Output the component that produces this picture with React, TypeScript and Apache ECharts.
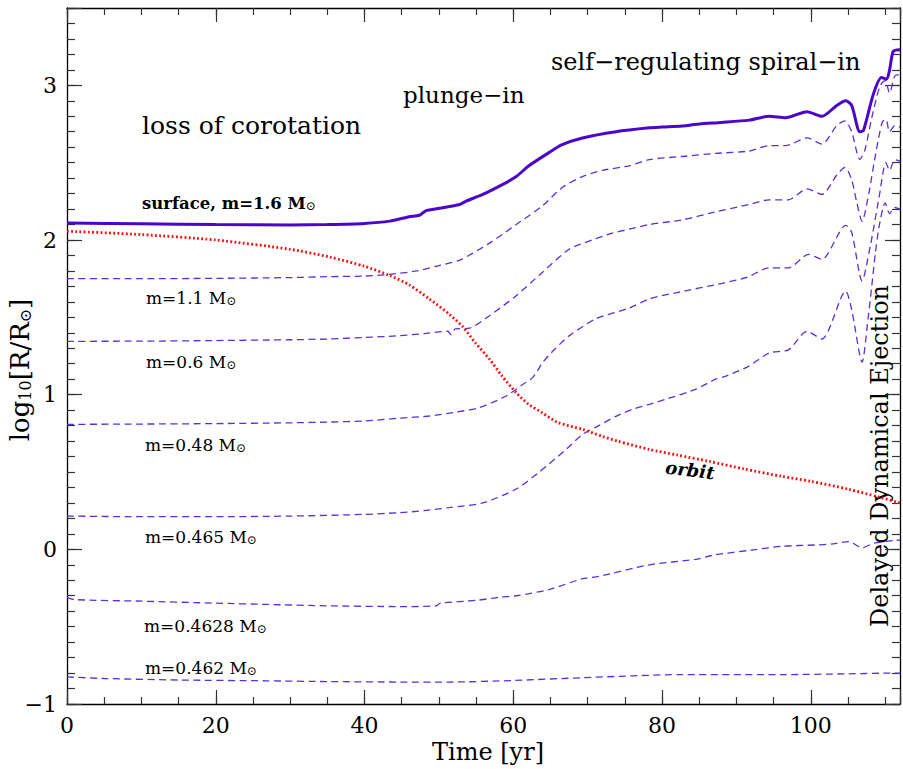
import React, { useEffect, useRef } from 'react';
import * as echarts from 'echarts';

const FONT = '"DejaVu Serif", "Liberation Serif", serif';

// Time [yr], log10(R/Rsun)
const surface = [
  [0, 2.11], [10, 2.105], [20, 2.1], [30, 2.097], [35, 2.1], [40, 2.107], [43.4, 2.122], [46, 2.15],
  [47.4, 2.16], [48.3, 2.19], [50.1, 2.205], [52.8, 2.23], [53.6, 2.25], [55.9, 2.295], [58.6, 2.36],
  [60.4, 2.41], [62.1, 2.48], [64.8, 2.565], [66.5, 2.615], [69.3, 2.66], [73.8, 2.7], [78.3, 2.725],
  [80, 2.73], [82.7, 2.737], [85, 2.75], [88, 2.76], [91.7, 2.775], [94.4, 2.8], [96.6, 2.79],
  [99.5, 2.83], [101.5, 2.8], [103.5, 2.87], [104.7, 2.9], [105.5, 2.87], [106.6, 2.7], [107.1, 2.71],
  [108.4, 2.94], [109.5, 3.05], [110.2, 3.04], [110.6, 3.1], [111.1, 3.22], [112, 3.23],
];

const m1p1 = [
  [0, 1.75], [10, 1.75], [20, 1.752], [30, 1.757], [35.3, 1.763], [40, 1.767], [43.4, 1.778], [47, 1.8],
  [49.6, 1.83], [52.8, 1.87], [56.8, 1.98], [60.4, 2.1], [63.9, 2.22], [66.6, 2.34], [69.3, 2.41],
  [72, 2.45], [75.6, 2.48], [78.3, 2.52], [82.7, 2.54], [87.2, 2.56], [91.7, 2.575], [94.4, 2.61],
  [96.6, 2.61], [99.5, 2.66], [101.5, 2.62], [103.5, 2.74], [104.6, 2.77], [105.5, 2.7], [106.6, 2.52],
  [107.3, 2.585], [108.2, 2.79], [109.3, 2.995], [110, 3.03], [110.6, 2.95], [111.3, 3.06], [112, 3.07],
];

const m0p6 = [
  [0, 1.345], [10, 1.346], [20, 1.35], [30, 1.355], [35.3, 1.36], [40, 1.37], [44.3, 1.38], [48, 1.395],
  [51.2, 1.41], [51.6, 1.388], [52.2, 1.425], [54.1, 1.43], [56.8, 1.51], [60.4, 1.64], [63.9, 1.79],
  [67.5, 1.94], [70.6, 2.0], [73, 2.04], [75.6, 2.07], [78.3, 2.1], [82.7, 2.13], [87, 2.18],
  [91.7, 2.23], [94.4, 2.26], [97, 2.26], [99.5, 2.33], [101.5, 2.295], [103.5, 2.42], [104.6, 2.47],
  [105.5, 2.39], [106.2, 2.24], [106.9, 2.12], [107.8, 2.3], [108.7, 2.55], [109.6, 2.76], [110.1, 2.78],
  [110.6, 2.7], [111.3, 2.74], [112, 2.73],
];

const m0p48 = [
  [0, 0.808], [10, 0.81], [20, 0.813], [30, 0.818], [35.3, 0.823], [40, 0.83], [44.7, 0.848], [48.7, 0.862],
  [52, 0.885], [55.4, 0.916], [59, 0.99], [61.3, 1.067], [62.6, 1.11], [64, 1.21], [65.5, 1.29],
  [67.5, 1.38], [71.1, 1.49], [75.6, 1.56], [78.3, 1.62], [82, 1.66], [88.1, 1.72], [91.5, 1.76],
  [94.4, 1.82], [97, 1.82], [99.7, 1.907], [101.5, 1.875], [104.7, 2.095], [105.5, 2.05], [106.9, 1.735],
  [108, 1.96], [109.2, 2.28], [110.1, 2.5], [110.6, 2.45], [111.3, 2.52], [112, 2.51],
];

const m0p465 = [
  [0, 0.215], [10, 0.211], [20, 0.211], [30, 0.215], [40, 0.226], [44.7, 0.237], [48, 0.25], [51.4, 0.27],
  [55.9, 0.3], [60.4, 0.39], [63.5, 0.5], [67.1, 0.646], [69.3, 0.743], [71.5, 0.8], [73.8, 0.86],
  [76, 0.905], [78.3, 0.937], [80.5, 0.97], [84.5, 1.034], [87.2, 1.1], [88.6, 1.12], [91.7, 1.185],
  [94.4, 1.27], [97, 1.29], [99.5, 1.41], [101.5, 1.36], [104.7, 1.67], [105.5, 1.55], [106.9, 1.21],
  [107.7, 1.49], [108.2, 1.7], [108.7, 1.92], [109.2, 2.09], [110, 2.24], [110.6, 2.17], [111.3, 2.21],
  [112, 2.2],
];

const m0p4628 = [
  [0, -0.31], [1, -0.325], [10, -0.335], [20, -0.348], [26.8, -0.356], [35, -0.365], [44.7, -0.37],
  [49.6, -0.366], [50.2, -0.348], [55, -0.33], [58.1, -0.31], [60.4, -0.3], [64.8, -0.26], [69.3, -0.19],
  [71.5, -0.175], [78.3, -0.1], [84.5, -0.065], [87.2, -0.035], [92, -0.005], [96.1, 0.02], [100.6, 0.028],
  [103, 0.035], [105.1, 0.05], [106.9, 0.01], [108.5, 0.04], [111.4, 0.058], [112, 0.06],
];

const m0p462 = [
  [0, -0.825], [5, -0.835], [15, -0.845], [26.8, -0.85], [35, -0.855], [44.7, -0.858], [51.4, -0.858],
  [60, -0.848], [69.3, -0.83], [82.7, -0.81], [96, -0.81], [105, -0.805], [111.4, -0.8], [112, -0.8],
];

const orbit = [
  [0, 2.057], [10, 2.035], [20, 2.0], [30, 1.94], [35.3, 1.89], [40, 1.83], [43.4, 1.77], [46, 1.71],
  [48.7, 1.62], [51.4, 1.52], [53.2, 1.44], [55, 1.33], [56.8, 1.23], [58.5, 1.12], [60.4, 1.013],
  [62, 0.94], [63.9, 0.883], [66, 0.82], [69.3, 0.776], [72, 0.73], [74, 0.7], [78.3, 0.646], [82, 0.61],
  [86.3, 0.569], [91, 0.52], [96.1, 0.472], [100, 0.44], [105.1, 0.388], [109, 0.34], [112, 0.3],
];

const X_MIN = 0;
const X_MAX = 112;
const Y_MIN = -1;
const Y_MAX = 3.5;

const SOLID = '#4a06c9';
const DASH = '#5b2fdc';
const RED = '#ff0a0a';

export default function App() {
  const ref = useRef<HTMLDivElement>(null);

  useEffect(() => {
    if (!ref.current) return;
    const chart = echarts.init(ref.current, null, { renderer: 'svg' });

    const dashed = (name: string, data: number[][]) => ({
      type: 'line',
      name,
      data,
      showSymbol: false,
      symbol: 'none',
      smooth: 0.25,
      lineStyle: { color: DASH, width: 1.3, type: [7, 4.5] },
      z: 2,
    });

    const xBase = (position: string, interval: number, len: number, major: boolean, labels: boolean) => ({
      type: 'value',
      min: X_MIN,
      max: X_MAX,
      interval,
      position,
      axisLine: { show: major, onZero: false, lineStyle: { color: '#000', width: 1.3 } },
      axisTick: { show: true, inside: true, length: len, lineStyle: { color: '#333', width: 1.2 } },
      axisLabel: {
        show: labels,
        margin: 10,
        fontSize: 22,
        fontFamily: FONT,
        color: '#000',
        formatter: (v: number) => (v % 20 === 0 ? String(v) : ''),
      },
      splitLine: { show: false },
    });

    const yBase = (position: string, interval: number, len: number, major: boolean, labels: boolean) => ({
      type: 'value',
      min: Y_MIN,
      max: Y_MAX,
      interval,
      position,
      axisLine: { show: major, onZero: false, lineStyle: { color: '#000', width: 1.3 } },
      axisTick: { show: true, inside: true, length: len, lineStyle: { color: '#333', width: 1.2 } },
      axisLabel: {
        show: labels,
        margin: 10,
        fontSize: 22,
        fontFamily: FONT,
        color: '#000',
        formatter: (v: number) =>
          Math.abs(v - Math.round(v)) < 1e-6 ? String(Math.round(v)).replace('-', '\u2212') : '',
      },
      splitLine: { show: false },
    });

    const msun = { s: { fontSize: 12, fontFamily: FONT, verticalAlign: 'bottom', fill: '#000' } };
    const mlabel = (text: string, x: number, y: number) => ({
      type: 'text',
      x,
      y,
      style: {
        text,
        fill: '#000',
        fontSize: 17,
        fontFamily: FONT,
        verticalAlign: 'middle',
        align: 'left',
        rich: { n: { fontSize: 17, fontFamily: FONT, fill: '#000' }, ...msun },
      },
    });
    const big = (text: string, x: number, y: number, size: number) => ({
      type: 'text',
      x,
      y,
      style: { text, fill: '#000', fontSize: size, fontFamily: FONT, verticalAlign: 'middle', align: 'left' },
    });

    const option = {
      animation: false,
      backgroundColor: '#fff',
      grid: { left: 67, right: 2, top: 8, bottom: 65, containLabel: false },
      xAxis: [
        xBase('bottom', 20, 14, true, true),
        xBase('bottom', 5, 7, false, false),
        xBase('top', 20, 14, true, false),
        xBase('top', 5, 7, false, false),
      ],
      yAxis: [
        yBase('left', 1, 15, true, true),
        yBase('left', 0.1, 8, false, false),
        yBase('right', 1, 15, true, false),
        yBase('right', 0.1, 8, false, false),
      ],
      series: [
        dashed('m=1.1', m1p1),
        dashed('m=0.6', m0p6),
        dashed('m=0.48', m0p48),
        dashed('m=0.465', m0p465),
        dashed('m=0.4628', m0p4628),
        dashed('m=0.462', m0p462),
        {
          type: 'line',
          name: 'orbit',
          data: orbit,
          showSymbol: false,
          symbol: 'none',
          smooth: 0.25,
          lineStyle: { color: RED, width: 2.8, type: [1.8, 2.4] },
          z: 3,
        },
        {
          type: 'line',
          name: 'surface',
          data: surface,
          showSymbol: false,
          symbol: 'none',
          smooth: 0.25,
          lineStyle: { color: SOLID, width: 3 },
          z: 4,
        },
      ],
      graphic: [
        big('loss of corotation', 142, 125, 25),
        big('plunge\u2212in', 403, 95, 23),
        big('self\u2212regulating spiral\u2212in', 551, 62, 24),
        {
          type: 'text',
          x: 142,
          y: 203,
          style: {
            text: '{b|surface, m=1.6 M}{s|\u2299}',
            fill: '#000',
            fontSize: 16.5,
            fontFamily: FONT,
            verticalAlign: 'middle',
            align: 'left',
            rich: { b: { fontSize: 16.5, fontWeight: 'bold', fontFamily: FONT, fill: '#000' }, ...msun },
          },
        },
        mlabel('{n|m=1.1 M}{s|\u2299}', 146, 298),
        mlabel('{n|m=0.6 M}{s|\u2299}', 146, 362),
        mlabel('{n|m=0.48 M}{s|\u2299}', 145, 445),
        mlabel('{n|m=0.465 M}{s|\u2299}', 145, 537),
        mlabel('{n|m=0.4628 M}{s|\u2299}', 144, 626),
        mlabel('{n|m=0.462 M}{s|\u2299}', 145, 668),
        {
          type: 'text',
          x: 690,
          y: 470,
          rotation: -0.12,
          style: {
            text: 'orbit',
            fill: '#000',
            fontSize: 18,
            fontStyle: 'italic',
            fontWeight: 'bold',
            fontFamily: FONT,
            align: 'center',
            verticalAlign: 'middle',
          },
        },
        {
          type: 'text',
          x: 880,
          y: 456,
          rotation: Math.PI / 2,
          style: {
            text: 'Delayed Dynamical Ejection',
            fill: '#000',
            fontSize: 24,
            fontFamily: FONT,
            align: 'center',
            verticalAlign: 'middle',
          },
        },
        {
          type: 'text',
          x: 20,
          y: 370,
          rotation: Math.PI / 2,
          style: {
            text: '{n|log}{s|10}{n|[R/R}{s|\u2299}{n|]}',
            fill: '#000',
            fontSize: 26,
            fontFamily: FONT,
            align: 'center',
            verticalAlign: 'middle',
            rich: {
              n: { fontSize: 26, fontFamily: FONT, fill: '#000' },
              s: { fontSize: 16, fontFamily: FONT, fill: '#000', verticalAlign: 'bottom' },
            },
          },
        },
        {
          type: 'text',
          x: 488,
          y: 752,
          style: {
            text: 'Time [yr]',
            fill: '#000',
            fontSize: 24,
            fontFamily: FONT,
            align: 'center',
            verticalAlign: 'middle',
          },
        },
      ],
    };

    chart.setOption(option as any);
    return () => chart.dispose();
  }, []);

  return <div ref={ref} style={{ position: 'absolute', left: 0, top: 0, width: 903, height: 769 }} />;
}
